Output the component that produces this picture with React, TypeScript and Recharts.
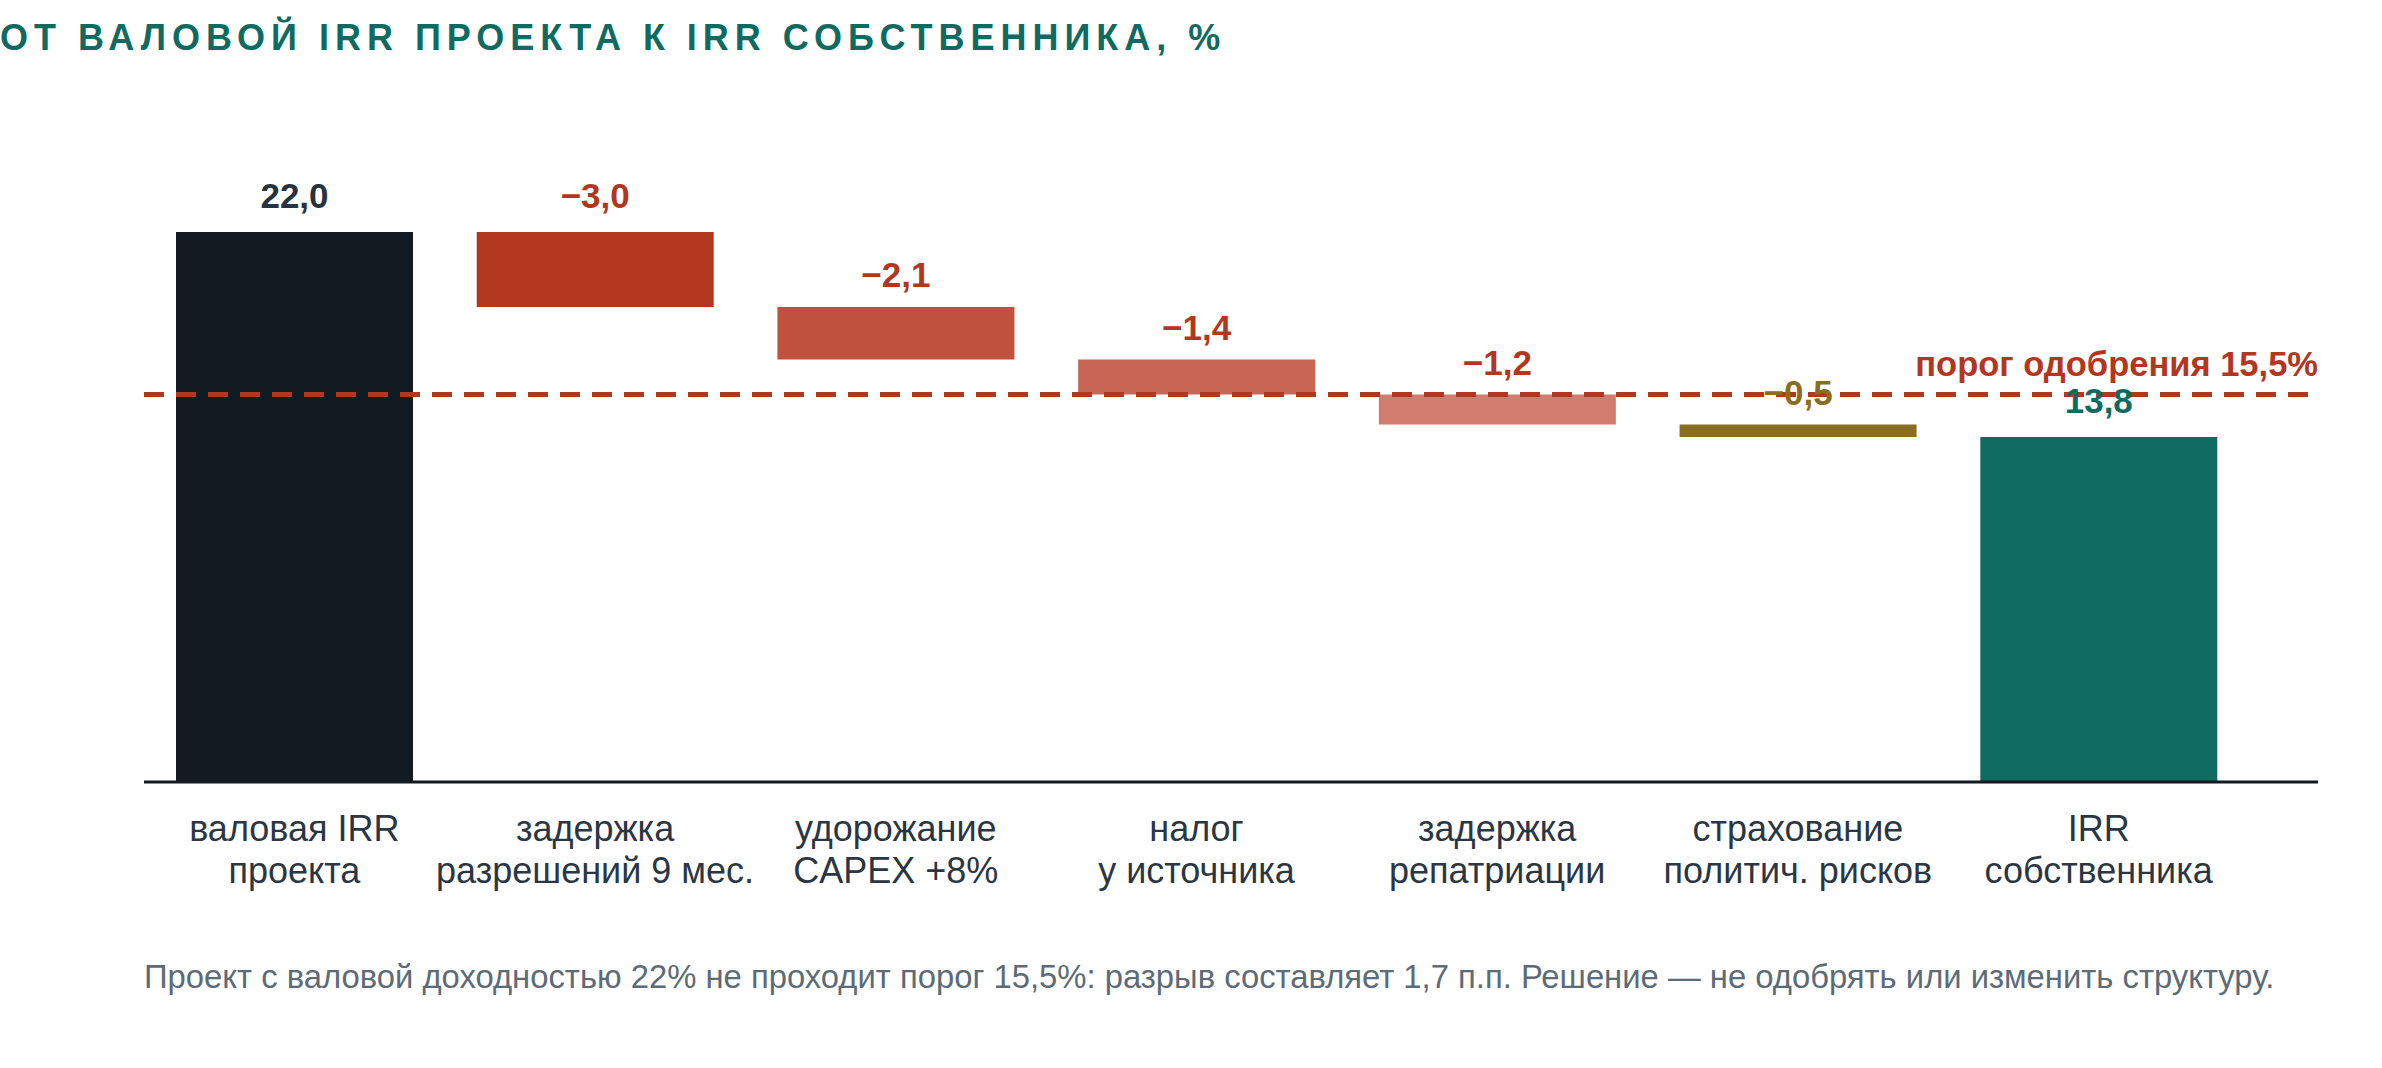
import { Bar, BarChart, Cell, LabelList, ReferenceLine, XAxis, YAxis } from "recharts";

const FONT = '"Liberation Sans", Arial, sans-serif';

// waterfall steps: first and last are totals, the rest are changes
const categories = [
  "валовая IRR\nпроекта",
  "задержка\nразрешений 9 мес.",
  "удорожание\nCAPEX +8%",
  "налог\nу источника",
  "задержка\nрепатриации",
  "страхование\nполитич. рисков",
  "IRR\nсобственника",
];
const stepValues = [22.0, -3.0, -2.1, -1.4, -1.2, -0.5, 13.8];
const isTotal = [true, false, false, false, false, false, true];
const barColors = ["#131a22", "#b3361f", "#c0513d", "#c96555", "#d07d6f", "#8a6d20", "#0f6b62"];
const labelColors = ["#263341", "#b3361f", "#b3361f", "#b3361f", "#b3361f", "#8a6d20", "#0f6b62"];
const threshold = 15.5;
const thresholdLabel = "порог одобрения 15,5%";
const yDomain = [0, 24];

const title = "ОТ ВАЛОВОЙ IRR ПРОЕКТА К IRR СОБСТВЕННИКА, %";
const note =
  "Проект с валовой доходностью 22% не проходит порог 15,5%: разрыв составляет 1,7 п.п. Решение — не одобрять или изменить структуру.";

// invisible base + visible segment per step
function buildRows() {
  let running = 0;
  return categories.map((name, i) => {
    const v = stepValues[i];
    let base: number;
    let size: number;
    if (isTotal[i]) {
      base = 0;
      size = v;
      running = v;
    } else {
      running = running + v;
      base = v < 0 ? running : running - v;
      size = Math.abs(v);
    }
    return { name, base, size, value: v };
  });
}

const fmt = (v: number) => (v < 0 ? "\u2212" : "") + Math.abs(v).toFixed(1).replace(".", ",");

function CategoryTick(props: any) {
  const { x, y, payload } = props;
  const lines = String(payload.value).split("\n");
  return (
    <text x={x} y={y} textAnchor="middle" fill="#2a3644" fontSize={36} fontFamily={FONT}>
      {lines.map((l, i) => (
        <tspan key={i} x={x} dy={i === 0 ? 59 : 42}>
          {l}
        </tspan>
      ))}
    </text>
  );
}

function ValueLabel(props: any) {
  const { x, y, width, index } = props;
  // change labels sit a little closer to their segment than totals
  const gap = isTotal[index] || index === 1 ? 24 : 20;
  return (
    <text
      x={x + width / 2}
      y={y - gap}
      textAnchor="middle"
      fill={labelColors[index]}
      fontSize={35}
      fontWeight="bold"
      fontFamily={FONT}
    >
      {fmt(stepValues[index])}
    </text>
  );
}

function ThresholdLabel(props: any) {
  const { viewBox } = props;
  return (
    <text
      x={viewBox.x + viewBox.width}
      y={viewBox.y - 19}
      textAnchor="end"
      fill="#b3361f"
      fontSize={34.5}
      fontWeight="bold"
      fontFamily={FONT}
    >
      {thresholdLabel}
    </text>
  );
}

export default function App() {
  const rows = buildRows();
  return (
    <div style={{ position: "absolute", left: 0, top: 0, width: 2382, height: 1068, background: "#fff", fontFamily: FONT }}>
      <div
        style={{
          position: "absolute",
          left: 0,
          top: 14,
          fontSize: 36,
          fontWeight: "bold",
          letterSpacing: 6,
          color: "#0f6b62",
          whiteSpace: "nowrap",
          lineHeight: "48px",
        }}
      >
        {title}
      </div>
      <BarChart
        width={2382}
        height={1068}
        data={rows}
        margin={{ top: 182, right: 64, left: 144, bottom: 166 }}
        barSize={237}
      >
        <YAxis hide domain={yDomain} />
        <XAxis
          dataKey="name"
          interval={0}
          tickLine={false}
          tickSize={0}
          tickMargin={0}
          height={120}
          padding={{ left: 0, right: 69 }}
          axisLine={{ stroke: "#131a22", strokeWidth: 3 }}
          tick={<CategoryTick />}
        />
        <Bar dataKey="base" stackId="w" fill="transparent" isAnimationActive={false} />
        <Bar dataKey="size" stackId="w" isAnimationActive={false}>
          {rows.map((r, i) => (
            <Cell key={r.name} fill={barColors[i]} />
          ))}
          <LabelList dataKey="value" content={<ValueLabel />} />
        </Bar>
        <ReferenceLine
          y={threshold}
          stroke="#b3361f"
          strokeWidth={5}
          strokeDasharray="20 12"
          label={<ThresholdLabel />}
        />
      </BarChart>
      <div
        style={{
          position: "absolute",
          left: 144,
          top: 957,
          fontSize: 32.8,
          color: "#5b6b78",
          whiteSpace: "nowrap",
          lineHeight: "40px",
        }}
      >
        {note}
      </div>
    </div>
  );
}
